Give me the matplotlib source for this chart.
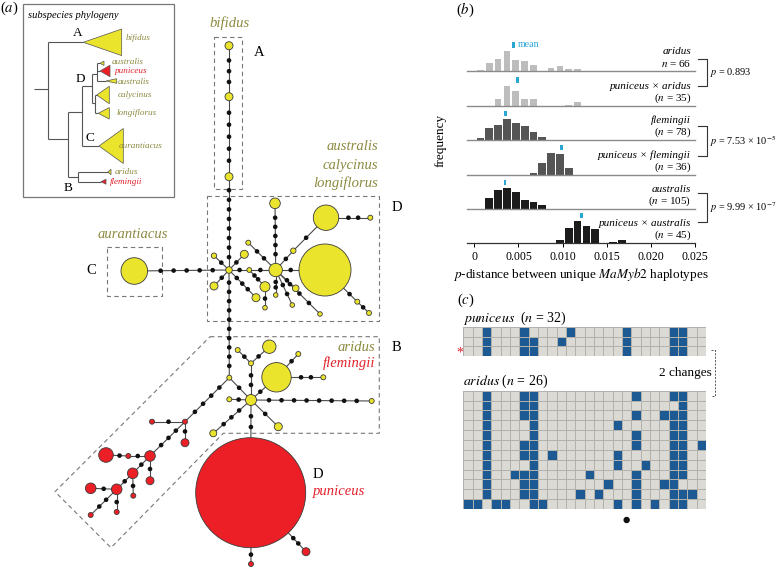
import numpy as np
import matplotlib
matplotlib.use("Agg")
import matplotlib.pyplot as plt
from matplotlib.patches import Circle, Polygon
from matplotlib.colors import ListedColormap

plt.rcParams['font.family'] = ['Liberation Serif', 'DejaVu Serif']
plt.rcParams['mathtext.fontset'] = 'stix'

W, H = 781, 567
OLIVE = '#8c8a40'
RED = '#e3222b'
YEL = '#ebe42c'
REDF = '#ec1f26'
CYAN = '#2aa6d5'
BLUE = '#1d5a94'
CELL = '#dcdad5'

# ---------------- panel (b) data ----------------
bin_centres = np.arange(18) * 0.001 + 0.0007
hist_names = ['aridus', 'puniceus × aridus', 'flemingii', 'puniceus × flemingii',
              'australis', 'puniceus × australis']
hist_n = ['$n$ = 66', '($n$ = 35)', '($n$ = 78)', '($n$ = 36)', '($n$ = 105)', '($n$ = 45)']
freq_aridus = [0.7, 7.3, 12, 20, 10.7, 9.7, 5.7, 0, 3, 4.3, 2, 2, 0, 0, 0, 0, 0, 0]
freq_pun_aridus = [0, 0, 7, 20.3, 15.3, 7, 7, 0, 0, 0, 1.3, 3.7, 0, 0, 0, 0, 0, 0]
freq_flemingii = [1.7, 12.3, 15.3, 21, 16.7, 14, 8.3, 3, 0, 0, 0, 0, 0, 0, 0, 0, 0, 0]
freq_pun_flem = [0, 0, 0, 0, 0, 0, 1.7, 12.3, 21.7, 20.7, 6.7, 0, 0, 0, 0, 0, 0, 0]
freq_australis = [0, 10.7, 19, 20.7, 16.7, 9, 6.7, 4, 0, 0, 0, 0, 0, 0, 0, 0, 0, 0]
freq_pun_aus = [0, 0, 0, 0, 0, 0, 0, 0, 0, 2.7, 15, 21.7, 16.3, 13.3, 0, 1, 2.7, 0]
hist_freqs = [freq_aridus, freq_pun_aridus, freq_flemingii, freq_pun_flem,
              freq_australis, freq_pun_aus]
hist_means = [0.00442, 0.00487, 0.00355, 0.00990, 0.00347, 0.01215]
hist_colors = ['#bdbdbd', '#bdbdbd', '#555555', '#555555', '#1c1c1c', '#1c1c1c']
p_values = ['$p$ = 0.893', '$p$ = 7.53 × 10$^{-5}$', '$p$ = 9.99 × 10$^{-7}$']
x_ticks = [0, 0.005, 0.010, 0.015, 0.020, 0.025]
x_ticklabels = ['0', '0.005', '0.010', '0.015', '0.020', '0.025']

# ---------------- panel (c) data ----------------
n_sites = 26
puniceus_rows = [[2, 6, 11, 17, 22, 23],
                 [2, 6, 7, 10, 17, 22, 23],
                 [2, 6, 7, 17, 22, 23]]
aridus_rows = [[2, 6, 7, 18, 22, 23],
               [2, 6, 7, 23],
               [2, 6, 7, 18, 21, 22, 23],
               [2, 7, 16, 22, 23],
               [2, 7, 18, 22, 23],
               [2, 6, 7, 18, 22, 23, 25],
               [2, 6, 7, 9, 16, 22, 23],
               [2, 7, 16, 19, 22, 23],
               [2, 5, 6, 7, 13, 18, 22, 23],
               [2, 6, 7, 15, 18, 21, 22],
               [2, 6, 7, 12, 14, 18, 22, 23, 24],
               [0, 1, 3, 4, 7, 8, 16, 18, 20, 22, 23]]

# ---------------- panel (a) network (pixel layout) ----------------
# name: (x, y, radius, kind)  kind y=yellow haplotype, r=red haplotype
nodes = {
    'bif1': (229, 45.7, 4, 'y'), 'bif2': (229, 96.7, 4, 'y'), 'bif3': (229, 176.7, 4, 'y'),
    'H1': (229, 270, 3.3, 'y'), 'C1': (134.3, 271, 13.3, 'y'),
    's1': (249.3, 270, 2.4, 'y'), 'H2': (275.7, 270, 6.7, 'y'),
    'Big1': (325, 270, 26, 'y'), 's2': (293.3, 250.7, 2.7, 'y'),
    'Big2': (326, 217.7, 12.7, 'y'), 's3': (370.3, 217.7, 2.5, 'y'),
    'y4': (275, 203.3, 5.3, 'y'), 's5': (248.3, 242.7, 2.5, 'y'),
    's6': (275.7, 295, 2.3, 'y'), 'y7': (295.7, 288.3, 3.3, 'y'),
    's8': (292.3, 305, 2.3, 'y'), 's9': (320, 314, 2.3, 'y'),
    's10': (357.3, 301.7, 2.5, 'y'), 's11': (369, 313, 2.5, 'y'),
    's12': (214, 255.7, 2.7, 'y'), 'y13': (244.3, 254.3, 4, 'y'),
    'y14': (214, 286, 4, 'y'), 'y15': (256, 297.7, 4, 'y'),
    'y16': (265, 286.7, 5, 'y'), 's17': (265, 307.7, 2.3, 'y'),
    'J': (229.3, 377.7, 2.5, 'y'), 'H3': (251, 400, 5.5, 'y'),
    'R1': (185, 421.7, 2.5, 'r'), 'r2': (152, 421.7, 2.5, 'r'), 'r3': (185, 442.7, 4, 'r'),
    'R2': (150, 456, 5.3, 'r'), 'r4': (128.3, 456, 2.5, 'r'), 'R3': (106, 455, 7.3, 'r'),
    'r5': (150, 480.7, 4, 'r'), 'R4': (132.7, 473.3, 5.3, 'r'), 'r6': (133.3, 495.7, 2.5, 'r'),
    'R5': (116.7, 489.3, 5.3, 'r'), 'R6': (90.7, 488.3, 5.3, 'r'),
    'r7': (116.7, 512, 2.5, 'r'), 'r8': (90.7, 515, 2.5, 'r'),
    's20': (371.7, 401, 2.5, 'y'), 's21': (229.3, 399.3, 2.5, 'y'),
    'y22': (213.3, 433.3, 3.5, 'y'), 'y23': (278.3, 426.7, 4, 'y'),
    'RBig': (250.7, 492.7, 55, 'r'), 's24': (251, 363.3, 2.5, 'y'),
    's25': (237.7, 350, 2.5, 'y'), 'y26': (269.3, 346.7, 6.7, 'y'),
    'Y3': (276.5, 377.3, 14.7, 'y'), 's27': (323.3, 377.3, 2.5, 'y'),
    's28': (298.3, 354, 2.5, 'y'), 'r29': (251, 564, 2.5, 'r'), 'r30': (306, 551.7, 4, 'r'),
}
# (from, to, number of missing intermediate haplotypes)
edges = [
    ('bif1', 'bif2', 3), ('bif2', 'bif3', 5), ('bif3', 'H1', 8), ('C1', 'H1', 5),
    ('H1', 's1', 1), ('s1', 'H2', 1), ('H2', 'Big1', 1), ('H2', 's2', 1), ('s2', 'Big2', 1),
    ('Big2', 's3', 2), ('H2', 'y4', 5), ('H2', 's5', 2), ('H2', 's6', 2), ('H2', 'y7', 1),
    ('H2', 's8', 2), ('H2', 's9', 3), ('Big1', 's10', 1), ('s10', 's11', 1),
    ('H1', 's12', 1), ('H1', 'y13', 1), ('H1', 'y14', 1), ('H1', 'y15', 3),
    ('s1', 'y16', 2), ('y16', 's17', 1), ('H1', 'J', 10), ('J', 'H3', 1), ('J', 'R1', 4),
    ('R1', 'r2', 1), ('R1', 'r3', 1), ('R1', 'R2', 3), ('R2', 'r4', 1), ('r4', 'R3', 1),
    ('R2', 'r5', 1), ('R2', 'R4', 1), ('R4', 'r6', 1), ('R4', 'R5', 1), ('R5', 'R6', 1),
    ('R5', 'r7', 1), ('R5', 'r8', 2), ('H3', 's20', 8), ('H3', 's21', 1), ('H3', 'y22', 3),
    ('H3', 'y23', 1), ('H3', 'RBig', 2), ('H3', 's24', 2), ('s24', 's25', 1), ('s24', 'y26', 1),
    ('H3', 'Y3', 1), ('Y3', 's27', 2), ('Y3', 's28', 1), ('RBig', 'r29', 1), ('RBig', 'r30', 2),
]

# subspecies phylogeny inset: branch segments and clade triangles
tree_lines = [
    ((34, 89.3), (48.3, 89.3)), ((48.3, 42.3), (48.3, 139.3)), ((48.3, 42.3), (83.3, 42.3)),
    ((48.3, 139.3), (68.3, 139.3)), ((68.3, 111.7), (68.3, 176.7)), ((68.3, 111.7), (81.7, 111.7)),
    ((81.7, 86), (81.7, 146)), ((81.7, 146), (99, 146)), ((81.7, 86), (91.7, 86)),
    ((91.7, 74), (91.7, 103.3)), ((91.7, 74), (96.7, 74)), ((96.7, 63.3), (96.7, 81)),
    ((96.7, 63.3), (100, 63.3)), ((96.7, 71), (100, 71)), ((96.7, 81), (106, 81)),
    ((91.7, 103.3), (95, 103.3)), ((95, 95), (95, 113.3)), ((95, 95), (96.7, 95)),
    ((95, 113.3), (98.3, 113.3)), ((68.3, 176.7), (78.3, 176.7)), ((78.3, 172), (78.3, 181.7)),
    ((78.3, 172), (107.7, 172)), ((78.3, 181.7), (101, 181.7)),
]
# apex x, apex y, base x, half height, colour
tree_clades = [
    (83.3, 42.3, 121.7, 13.3, YEL), (100, 63.3, 104, 2.2, YEL), (100, 71, 110, 5.8, REDF),
    (106, 81, 116.7, 2.3, YEL), (96.7, 95, 109.3, 8.7, YEL), (98.3, 113.3, 109.3, 5.8, YEL),
    (99, 146, 123.3, 17.5, YEL), (107.7, 172, 111, 2.7, YEL), (101, 181.7, 106, 2.5, REDF),
]
tree_labels = [
    ('bifidus', 126, 38.3, OLIVE), ('australis', 111.7, 62, OLIVE), ('puniceus', 115, 71, RED),
    ('australis', 117.3, 81.5, OLIVE), ('calycinus', 117.3, 95, OLIVE),
    ('longiflorus', 116.7, 113.3, OLIVE), ('aurantiacus', 118.3, 145.7, OLIVE),
    ('aridus', 115, 172.3, OLIVE), ('flemingii', 110, 181.7, RED),
]

fig = plt.figure(figsize=(W / 100, H / 100), dpi=100)
ax = fig.add_axes([0, 0, 1, 1])
ax.set_xlim(0, W)
ax.set_ylim(H, 0)
ax.axis('off')

# ---- inset tree
ax.add_patch(plt.Rectangle((23.3, 4.3), 150.7, 192.7, fill=False, ec='#777777', lw=0.9))
for (x0, y0), (x1, y1) in tree_lines:
    ax.plot([x0, x1], [y0, y1], color='#555555', lw=0.8, solid_capstyle='butt')
for axp, ayp, bx, hh, c in tree_clades:
    ax.add_patch(Polygon([(axp, ayp), (bx, ayp - hh), (bx, ayp + hh)], closed=True,
                         fc=c, ec='#555555', lw=0.5))
for t, x, y, c in tree_labels:
    ax.text(x, y, t, color=c, style='italic', fontsize=6.6, va='center', ha='left')
ax.text(28, 15, 'subspecies phylogeny', style='italic', fontsize=7.6, va='center')
for t, x, y in [('A', 78, 33.5), ('D', 80, 79.3), ('C', 90, 138.3), ('B', 68.3, 188.3)]:
    ax.text(x, y, t, fontsize=9.5, ha='center', va='center')
ax.text(9, 8, '($a$)', fontsize=10.5, ha='center', va='center')

# ---- network edges and intermediate haplotypes
for a, b, n in edges:
    xa, ya, ra, _ = nodes[a]
    xb, yb, rb, _ = nodes[b]
    ax.plot([xa, xb], [ya, yb], color='#4a4a4a', lw=0.8, zorder=2)
    d = np.hypot(xb - xa, yb - ya)
    ux, uy = (xb - xa) / d, (yb - ya) / d
    sx, sy = xa + ux * ra, ya + uy * ra
    ex, ey = xb - ux * rb, yb - uy * rb
    for k in range(1, n + 1):
        t = k / (n + 1)
        ax.add_patch(Circle((sx + (ex - sx) * t, sy + (ey - sy) * t), 2.3,
                            fc='#111111', ec='none', zorder=3))
for name, (x, y, r, kind) in nodes.items():
    ax.add_patch(Circle((x, y), r, fc=YEL if kind == 'y' else REDF,
                        ec='#3a3a3a', lw=0.6, zorder=4))

# dashed group boxes
dash = dict(fill=False, ec='#777777', lw=0.8, ls=(0, (4, 3)), zorder=1)
ax.add_patch(plt.Rectangle((214, 36.7), 27.7, 152.6, **dash))
ax.add_patch(plt.Rectangle((107.3, 246.7), 54.4, 49, **dash))
ax.add_patch(plt.Rectangle((206.7, 195.7), 172.6, 125.3, **dash))
ax.add_patch(Polygon([(210, 336.7), (379.3, 336.7), (379.3, 433.3), (223.3, 433.3),
                      (111, 547.7), (55, 491.7)], closed=True, **dash))

lab = dict(style='italic', fontsize=10.5)
ax.text(230, 22.7, 'bifidus', color=OLIVE, ha='center', va='center', **lab)
ax.text(259, 52.7, 'A', fontsize=10.5, ha='center', va='center')
for t, y in [('australis', 146.7), ('calycinus', 165), ('longiflorus', 182.7)]:
    ax.text(378, y, t, color=OLIVE, ha='right', va='center', **lab)
ax.text(396.7, 207.3, 'D', fontsize=10.5, ha='center', va='center')
ax.text(91, 271, 'C', fontsize=10.5, ha='center', va='center')
ax.text(133, 234, 'aurantiacus', color=OLIVE, ha='center', va='center', **lab)
ax.text(396, 347.7, 'B', fontsize=10.5, ha='center', va='center')
ax.text(375, 347.7, 'aridus', color=OLIVE, ha='right', va='center', **lab)
ax.text(375, 362.7, 'flemingii', color=RED, ha='right', va='center', **lab)
ax.text(318.3, 474, 'D', fontsize=10.5, ha='center', va='center')
ax.text(339, 492, 'puniceus', color=RED, ha='center', va='center', **lab)

# ---------------- panel (b) ----------------
x_left, x0px, x1px = 466.7, 474.3, 695
scale = (x1px - x0px) / 0.025
xlim = (-(x0px - x_left) / scale, 0.025)
baselines = [70.7, 106, 140, 175, 209, 242.7]
row_h = 34
for i, (base, freqs) in enumerate(zip(baselines, hist_freqs)):
    hax = fig.add_axes([x_left / W, 1 - base / H, (x1px - x_left) / W, row_h / H])
    hax.patch.set_alpha(0)
    wid = 0.00075 if i < 2 else 0.00088
    hax.bar(bin_centres, freqs, width=wid, color=hist_colors[i], ec='none')
    top = max(freqs)
    hax.bar([hist_means[i]], [5.5], bottom=top + 3, width=0.0003, color=CYAN, clip_on=False)
    hax.set_xlim(*xlim)
    hax.set_ylim(0, row_h)
    for s in ['top', 'right', 'left']:
        hax.spines[s].set_visible(False)
    hax.set_yticks([])
    if i < 5:
        hax.spines['bottom'].set_color('#8a8a8a')
        hax.spines['bottom'].set_linewidth(1.0)
        hax.set_xticks([])
    else:
        hax.spines['bottom'].set_color('#333333')
        hax.spines['bottom'].set_linewidth(0.9)
        hax.set_xticks(x_ticks)
        hax.set_xticklabels(x_ticklabels, fontsize=8.5)
        hax.tick_params(axis='x', length=3, width=0.7, pad=3)
        hax.set_xlabel('$p$-distance between unique $MaMyb2$ haplotypes', fontsize=9.5, labelpad=2)
    ax.text(691, base - 19.5, hist_names[i], style='italic', fontsize=8, ha='right', va='center')
    ax.text(691, base - 7.5, hist_n[i], fontsize=8, ha='right', va='center')
ax.text(518, 44.3, 'mean', color=CYAN, fontsize=7.2, va='center')
ax.text(441, 140, 'frequency', rotation=90, fontsize=9.5, ha='center', va='center')
ax.text(465, 9.5, '($b$)', fontsize=10.5, ha='center', va='center')

for (y0, y1), pv in zip([(59, 85.7), (125.7, 156), (192.7, 221.7)], p_values):
    ax.plot([698, 707, 707, 698], [y0, y0, y1, y1], color='#333333', lw=0.8)
    ax.text(710, (y0 + y1) / 2, pv, fontsize=7.4, ha='left', va='center')

# ---------------- panel (c) ----------------
cmap = ListedColormap([CELL, BLUE])
gx0, gx1 = 463.3, 706
for rows, top, bottom in [(puniceus_rows, 327, 356), (aridus_rows, 390.7, 509)]:
    mat = np.zeros((len(rows), n_sites))
    for r, cols in enumerate(rows):
        mat[r, cols] = 1
    gax = fig.add_axes([gx0 / W, 1 - bottom / H, (gx1 - gx0) / W, (bottom - top) / H])
    gax.pcolormesh(mat, cmap=cmap, vmin=0, vmax=1, edgecolors='#b3b1ac', linewidth=0.4)
    gax.set_xlim(0, n_sites)
    gax.set_ylim(len(rows), 0)
    gax.axis('off')

ax.text(457, 300, '($c$)', fontsize=10.5, ha='left', va='center')
ax.text(463, 318, '$puniceus$  ($n$ = 32)', fontsize=10, ha='left', va='center')
ax.text(463, 381, '$aridus$ ($n$ = 26)', fontsize=10, ha='left', va='center')
ax.text(459.5, 353, '*', color=RED, fontsize=10, ha='center', va='center')
ax.plot([711, 715, 715, 711], [350, 350, 396, 396], color='#555555', lw=0.7, ls=(0, (2, 1.5)))
ax.text(711.5, 372.7, '2 changes', fontsize=9.5, ha='right', va='center')
ax.add_patch(Circle((gx0 + (gx1 - gx0) * 17.5 / n_sites, 520), 3.2, fc='#111111', ec='none'))

fig.savefig('out.png', dpi=100)
